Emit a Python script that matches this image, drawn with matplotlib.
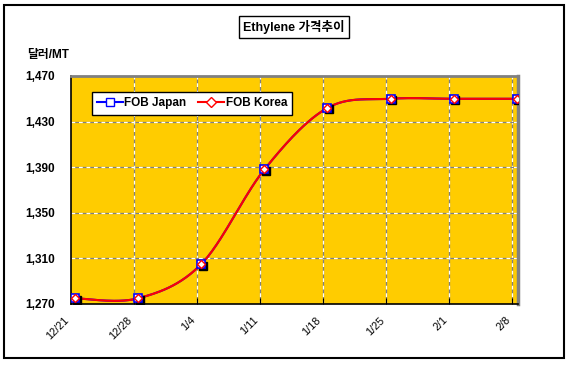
import numpy as np
import matplotlib
matplotlib.use('Agg')
import matplotlib.pyplot as plt
from matplotlib.lines import Line2D
from matplotlib.patches import Rectangle
import matplotlib.transforms as mtransforms

plt.rcParams['font.family'] = ['Liberation Sans', 'Noto Sans CJK KR']

# data
dates = ['12/21', '12/28', '1/4', '1/11', '1/18', '1/25', '2/1', '2/8']
fob_japan = [1275, 1275, 1305, 1388, 1442, 1450, 1450, 1450]
fob_korea = [1275, 1275, 1305, 1388, 1442, 1450, 1450, 1450]
y_ticks = [1270, 1310, 1350, 1390, 1430, 1470]


# Excel-like smoothed line (bezier through the points)
def smooth(xs, ys, steps=30):
    p = np.column_stack([xs, ys]).astype(float)
    n = len(p)
    out = []
    for i in range(n - 1):
        p0 = p[max(i - 1, 0)]
        p1 = p[i]
        p2 = p[i + 1]
        p3 = p[min(i + 2, n - 1)]
        c1 = p1 + (p2 - p0) / 6
        c2 = p2 - (p3 - p1) / 6
        t = np.linspace(0, 1, steps)[:, None]
        seg = ((1 - t) ** 3) * p1 + 3 * ((1 - t) ** 2) * t * c1 + 3 * (1 - t) * t ** 2 * c2 + t ** 3 * p2
        out.append(seg)
    out = np.vstack(out)
    return out[:, 0], out[:, 1]


fig = plt.figure(figsize=(5.7, 3.66), dpi=100)
ax = fig.add_axes([70.7 / 570, 62 / 366, (518 - 70.7) / 570, (304 - 76) / 366])
ax.set_facecolor('#FFCC00')

x = np.arange(len(dates)) + 0.07

# grid: gray line with white dashes on top
for gx in range(1, len(dates)):
    ax.axvline(gx, color='#808080', lw=0.9, zorder=1)
    ax.axvline(gx, color='white', lw=0.9, ls=(0, (3, 3)), zorder=1)
for gy in y_ticks[1:-1]:
    ax.axhline(gy, color='#808080', lw=0.9, zorder=1)
    ax.axhline(gy, color='white', lw=0.9, ls=(0, (3, 3)), zorder=1)

sx, sy = smooth(x, fob_japan)
ax.plot(sx, sy, color='blue', lw=1.5, zorder=3)
sx, sy = smooth(x, fob_korea)
ax.plot(sx, sy, color='red', lw=1.5, zorder=4)

shadow = mtransforms.offset_copy(ax.transData, fig=fig, x=1.5, y=-1.5, units='dots')
ax.plot(x, fob_japan, ls='none', marker='s', ms=6, color='black', transform=shadow, zorder=5)
ax.plot(x, fob_japan, ls='none', marker='s', ms=6, mfc='white', mec='blue', mew=1.2, zorder=6)
ax.plot(x, fob_korea, ls='none', marker='D', ms=4.2, mfc='white', mec='red', mew=1.0, zorder=7)

ax.set_xlim(0, 7.09)
ax.set_ylim(1270, 1470)
ax.set_xticks(range(len(dates)))
ax.set_xticklabels(dates, rotation=45, ha='right', va='top', fontsize=7.8)
ax.set_yticks(y_ticks)
ax.set_yticklabels([f'{v:,}' for v in y_ticks], fontsize=8.5, fontweight='bold')
ax.tick_params(axis='x', direction='in', length=4, pad=8, color='black')
ax.tick_params(axis='y', direction='in', length=0, pad=11.3)
for lbl in ax.get_yticklabels():
    lbl.set_ha('right')

ax.spines['left'].set_color('black')
ax.spines['bottom'].set_color('black')
ax.spines['left'].set_linewidth(1.2)
ax.spines['bottom'].set_linewidth(1.2)
ax.spines['top'].set_color('#808080')
ax.spines['right'].set_color('#808080')
ax.spines['top'].set_linewidth(2)
ax.spines['right'].set_linewidth(2.5)

handles = [
    Line2D([], [], color='blue', lw=1.5, marker='s', ms=6, mfc='white', mec='blue'),
    Line2D([], [], color='red', lw=1.5, marker='D', ms=5, mfc='white', mec='red'),
]
leg = ax.legend(handles, ['FOB Japan', 'FOB Korea'], ncol=2, loc='upper left',
                bbox_to_anchor=(92 / 570, 1 - 92 / 366), bbox_transform=fig.transFigure,
                borderaxespad=0, frameon=True, fancybox=False, framealpha=1,
                handlelength=2.2, handletextpad=0.1, columnspacing=1.0,
                borderpad=0.45, prop={'size': 8.5, 'weight': 'bold'})
leg.get_frame().set_edgecolor('black')
leg.get_frame().set_linewidth(1.0)
leg.set_zorder(10)

# title box and unit label
fig.text(294 / 570, 1 - 27 / 366, 'Ethylene 가격추이', ha='center', va='center',
         fontsize=9, fontweight='bold',
         bbox=dict(boxstyle='square,pad=0.35', fc='white', ec='black', lw=1.0))
fig.text(27 / 570, 1 - 55 / 366, '달러/MT', ha='left', va='center', fontsize=8.5, fontweight='bold')

# outer chart frame
fig.patches.append(Rectangle((4 / 570, 1 - 358 / 366), 560 / 570, 353 / 366,
                             transform=fig.transFigure, fill=False, ec='black', lw=1.5))

fig.savefig('out.png', dpi=100)
